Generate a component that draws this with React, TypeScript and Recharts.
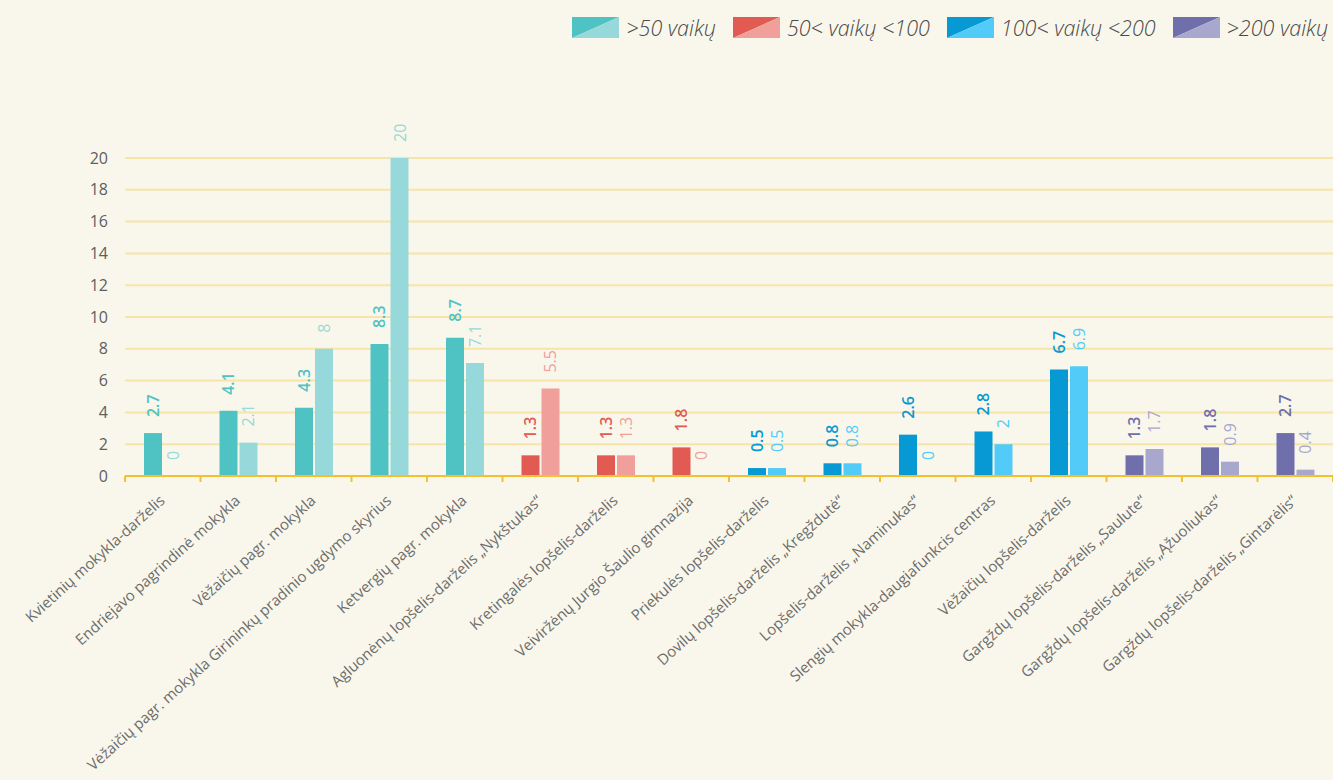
import React from 'react';
import { Bar, BarChart, CartesianGrid, Cell, LabelList, XAxis, YAxis } from 'recharts';

const categories = [
    'Kvietinių mokykla-darželis',
    'Endriejavo pagrindinė mokykla',
    'Vėžaičių pagr. mokykla',
    'Vėžaičių pagr. mokykla Girininkų pradinio ugdymo skyrius',
    'Ketvergių pagr. mokykla',
    'Agluonėnų lopšelis-darželis „Nykštukas“',
    'Kretingalės lopšelis-darželis',
    'Veiviržėnų Jurgio Šaulio gimnazija',
    'Priekulės lopšelis-darželis',
    'Dovilų lopšelis-darželis „Kregždutė“',
    'Lopšelis-darželis „Naminukas“',
    'Slengių mokykla-daugiafunkcis centras',
    'Vėžaičių lopšelis-darželis',
    'Gargždų lopšelis-darželis „Saulute“',
    'Gargždų lopšelis-darželis „Ąžuoliukas“',
    'Gargždų lopšelis-darželis „Gintarėlis“',
];
const groupOf = [0, 0, 0, 0, 0, 1, 1, 1, 2, 2, 2, 2, 2, 3, 3, 3];
const darkValues = [2.7, 4.1, 4.3, 8.3, 8.7, 1.3, 1.3, 1.8, 0.5, 0.8, 2.6, 2.8, 6.7, 1.3, 1.8, 2.7];
const lightValues = [0, 2.1, 8, 20, 7.1, 5.5, 1.3, 0, 0.5, 0.8, 0, 2, 6.9, 1.7, 0.9, 0.4];
const groupNames = ['>50 vaikų', '50< vaikų <100', '100< vaikų <200', '>200 vaikų'];
const darkColors = ['#4fc3c3', '#e15b52', '#0699d3', '#6e6fab'];
const lightColors = ['#97d9da', '#f09f9a', '#52cbf8', '#a8a8cf'];
const yTicks = [0, 2, 4, 6, 8, 10, 12, 14, 16, 18, 20];

const data = categories.map((name, i) => ({
    name,
    dark: darkValues[i],
    light: lightValues[i],
    group: groupOf[i],
}));

const font = '"Open Sans", sans-serif';
const gold = '#f3c12f';

// zero bars would otherwise be dropped, and their "0" labels with them
const keepZero = 0.01;

const valueLabel = (colors: string[], bold: boolean) => (props: any) => {
    const { x, y, width, height, value, index } = props;
    const cx = x + width / 2;
    const ty = Math.min(y, y + height) - 16;
    return (
        <text
            x={cx}
            y={ty}
            transform={`rotate(-90 ${cx} ${ty})`}
            textAnchor="start"
            dominantBaseline="central"
            fill={colors[groupOf[index]]}
            fontSize={16}
            fontWeight={bold ? 600 : 400}
            fontFamily={font}
        >
            {value}
        </text>
    );
};

const CategoryTick = (props: any) => {
    const { x, y, payload, index } = props;
    const half = payload.offset ?? 0;
    const tx = x + 3;
    const ty = y + 26;
    return (
        <g>
            <line x1={x - half} x2={x - half} y1={y} y2={y + 6} stroke={gold} strokeWidth={2} />
            {index === categories.length - 1 && (
                <line x1={x + half} x2={x + half} y1={y} y2={y + 6} stroke={gold} strokeWidth={2} />
            )}
            <text
                x={tx}
                y={ty}
                transform={`rotate(-42 ${tx} ${ty})`}
                textAnchor="end"
                fill="#6d6d6d"
                fontSize={15}
                fontFamily={font}
            >
                {payload.value}
            </text>
        </g>
    );
};

const LegendBox = () => (
    <div style={{ position: 'absolute', top: 13, right: 5, display: 'flex', gap: 17, alignItems: 'center' }}>
        {groupNames.map((g, i) => (
            <div key={g} style={{ display: 'flex', alignItems: 'center', gap: 7 }}>
                <svg width={47} height={21}>
                    <polygon points="0,0 47,0 0,21" fill={darkColors[i]} />
                    <polygon points="47,0 47,21 0,21" fill={lightColors[i]} />
                </svg>
                <span style={{ fontFamily: font, fontStyle: 'italic', fontWeight: 300, fontSize: 21.5, color: '#4a4a4a' }}>
                    {g}
                </span>
            </div>
        ))}
    </div>
);

const App = () => {
    return (
        <div style={{ position: 'absolute', left: 0, top: 0, width: 1333, height: 780, background: '#f9f7eb' }}>
            <LegendBox />
            <BarChart
                width={1333}
                height={780}
                data={data}
                barGap={2}
                margin={{ top: 158, right: 0, bottom: 0, left: 0 }}
            >
                <CartesianGrid vertical={false} stroke="#f6e4a9" strokeWidth={2} />
                <YAxis
                    width={125}
                    domain={[0, 20]}
                    ticks={yTicks}
                    tickLine={false}
                    axisLine={false}
                    tickMargin={11}
                    tick={{ fill: '#5e5e5e', fontSize: 16, fontFamily: font }}
                />
                <XAxis
                    dataKey="name"
                    height={304}
                    interval={0}
                    tickLine={false}
                    tickSize={0}
                    tickMargin={0}
                    axisLine={{ stroke: gold, strokeWidth: 2 }}
                    tick={<CategoryTick />}
                />
                <Bar dataKey="dark" barSize={18} minPointSize={keepZero} isAnimationActive={false}>
                    {data.map((d, i) => (
                        <Cell key={i} fill={darkColors[d.group]} />
                    ))}
                    <LabelList dataKey="dark" content={valueLabel(darkColors, true)} />
                </Bar>
                <Bar dataKey="light" barSize={18} minPointSize={keepZero} isAnimationActive={false}>
                    {data.map((d, i) => (
                        <Cell key={i} fill={lightColors[d.group]} />
                    ))}
                    <LabelList dataKey="light" content={valueLabel(lightColors, false)} />
                </Bar>
            </BarChart>
        </div>
    );
};

export default App;
